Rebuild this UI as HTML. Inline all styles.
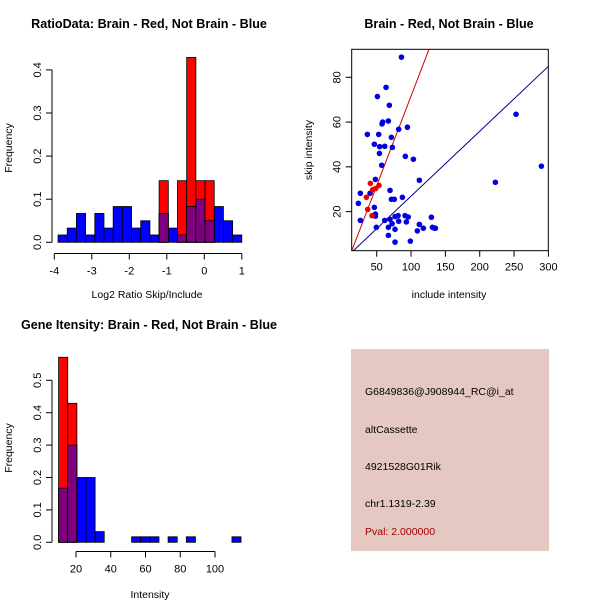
<!DOCTYPE html>
<html><head><meta charset="utf-8"><style>
body{margin:0;background:#fff;}
svg{display:block;font-family:"Liberation Sans",sans-serif;}
</style></head><body>
<svg id="c" width="600" height="600" xmlns="http://www.w3.org/2000/svg">
<rect x="0" y="0" width="600" height="600" fill="#fff"/>
<rect x="351" y="349" width="198" height="202" fill="#e5c8c1"/>
<g font-size="10.5">
<text x="365" y="395">G6849836@J908944_RC@i_at</text>
<text x="365" y="433">altCassette</text>
<text x="365" y="470">4921528G01Rik</text>
<text x="365" y="507">chr1.1319-2.39</text>
<text x="365" y="535" fill="#a00000">Pval: 2.000000</text>
</g>
</svg>
<script>
// ---- Ratio histogram data ----
const ratioBinStart = -3.9;
const ratioBinWidth = 0.245;
const ratioBlue = [0.017,0.033,0.067,0.017,0.067,0.033,0.083,0.083,0.033,0.05,0.017,0.067,0.033,0.017,0.083,0.1,0.05,0.083,0.05,0.017];
const ratioRed  = [0,0,0,0,0,0,0,0,0,0,0,0.143,0,0.143,0.429,0.143,0.143,0,0,0];
const ratioXTicks = [-4,-3,-2,-1,0,1];
const ratioYTicks = [0,0.1,0.2,0.3,0.4];
// ---- Intensity histogram data ----
const intBinStart = 10;
const intBinWidth = 5.25;
const intBlue = [0.167,0.3,0.2,0.2,0.033,0,0,0,0.017,0.017,0.017,0,0.017,0,0.017,0,0,0,0,0.017];
const intRed  = [0.571,0.429];
const intXTicks = [20,40,60,80,100];
const intYTicks = [0,0.1,0.2,0.3,0.4,0.5];
// ---- Scatter data ----
const blueX = [86,63.6,51,68.4,36.4,52.9,57.8,58.7,67,71.4,94.7,46.6,54.3,61.7,72.8,54,91.7,103.4,57.3,112.1,48.1,26.2,40.3,69.4,87.4,71.4,75.7,23.3,46.6,48.1,48.1,26.2,61.7,69.4,49.5,67,72.4,76.7,81.1,91.3,95.9,82,93.2,76.7,67,76.7,99,109.2,112.1,117.9,129.6,131.1,134,135.5,222.8,252.9,289.8,82];
const blueY = [89,75.5,71.4,67.5,54.5,54.5,59.2,60,60.5,53.2,57.7,50.1,49,49.2,48.7,46,44.7,43.4,40.7,34,34.4,28.2,28.2,29.5,26.4,25.5,25.5,23.7,21.9,18.9,18,16.1,16.1,16.6,13,13,14.6,17.8,18.2,18.2,17.6,15.7,15.4,12.1,9.4,6.4,6.8,11.4,14.3,12.6,17.5,13,12.6,12.6,33.1,63.5,40.3,56.8];
const redX = [40.8,53.4,48.5,44.2,35,36.9,43.2];
const redY = [32.6,31.7,30.3,29.8,26.4,21,18.2];
const redLine = [0.8,-8.4];   // slope, intercept
const blueLine = [0.29,-2.1];
const scXTicks = [50,100,150,200,250,300];
const scYTicks = [20,40,60,80];

const svg = document.getElementById('c');
const NS = 'http://www.w3.org/2000/svg';
function mk(tag, attrs, parent){const e=document.createElementNS(NS,tag);for(const k in attrs)e.setAttribute(k,attrs[k]);(parent||svg).appendChild(e);return e;}
function txt(s,x,y,attrs){const e=mk('text',Object.assign({x:x,y:y},attrs||{}));e.textContent=s;return e;}

function histogram(o){
  const g=mk('g',{});
  
  
  const X=v=>o.x0+(v-o.xa)*o.xs, Y=v=>o.y0-v*o.ys;
  for(let i=0;i<o.blue.length;i++){ if(!o.blue[i])continue;
    const l=X(o.start+i*o.w), r=X(o.start+(i+1)*o.w);
    const b=mk('rect',{x:l,y:Y(o.blue[i]),width:r-l,height:o.blue[i]*o.ys,fill:'#0000ff',stroke:'#000','stroke-width':0.8},g);
    
    }
  for(let i=0;i<o.red.length;i++){ if(!o.red[i])continue;
    const l=X(o.start+i*o.w), r=X(o.start+(i+1)*o.w);
    const b=mk('rect',{x:l,y:Y(o.red[i]),width:r-l,height:o.red[i]*o.ys,fill:'#ff0000',stroke:'#000','stroke-width':0.8},g);
    
    
    const m=Math.min(o.red[i],o.blue[i]||0);
    if(m>0){const p=mk('rect',{x:l,y:Y(m),width:r-l,height:m*o.ys,fill:'#7f007f',stroke:'#000','stroke-width':0.8},g);
      
      }}
  const ax=o.xaxisY;
  mk('line',{x1:X(o.xt[0]),y1:ax,x2:X(o.xt[o.xt.length-1]),y2:ax,stroke:'#000'},g);
  o.xt.forEach(t=>{mk('line',{x1:X(t),y1:ax,x2:X(t),y2:ax+6,stroke:'#000'},g);
    txt(String(t),X(t),ax+21,{'font-size':11,'text-anchor':'middle'});});
  const yx=o.yaxisX;
  mk('line',{x1:yx,y1:Y(o.yt[0]),x2:yx,y2:Y(o.yt[o.yt.length-1]),stroke:'#000'},g);
  o.yt.forEach(t=>{mk('line',{x1:yx,y1:Y(t),x2:yx-6,y2:Y(t),stroke:'#000'},g);
    txt(t.toFixed(1),yx-11,Y(t),{'font-size':11,'text-anchor':'middle',transform:`rotate(-90 ${yx-11} ${Y(t)})`});});
  const tt=txt(o.title,o.tx,o.ty,{'font-size':12.6,'font-weight':'bold','text-anchor':'middle'});
  
  
  const xl=txt(o.xlab,o.xlx,o.xly,{'font-size':10.5,'text-anchor':'middle'});
  
  
  const yl=txt('Frequency',12,o.yly,{'font-size':10.5,'text-anchor':'middle',transform:`rotate(-90 12 ${o.yly})`});
  
  
}

histogram({name:'ratio-histogram',blue:ratioBlue,red:ratioRed,start:ratioBinStart,w:ratioBinWidth,
  x0:54.3,xa:-4,xs:37.5,y0:242.3,ys:431,xt:ratioXTicks,yt:ratioYTicks,xaxisY:253.5,yaxisX:52,
  title:'RatioData: Brain - Red, Not Brain - Blue',tx:149,ty:28,xlab:'Log2 Ratio Skip/Include',xlx:147,xly:298,yly:148});
histogram({name:'intensity-histogram',blue:intBlue,red:intRed,start:intBinStart,w:intBinWidth,
  x0:76,xa:20,xs:1.7375,y0:542.3,ys:324,xt:intXTicks,yt:intYTicks,xaxisY:551.5,yaxisX:52,
  title:'Gene Itensity: Brain - Red, Not Brain - Blue',tx:149,ty:329,xlab:'Intensity',xlx:150,xly:598,yly:448});

(function(){
  const g=mk('g',{});
  
  
  const X=v=>376.7+(v-50)*0.6868, Y=v=>77.3+(80-v)*2.2389;
  const L=351.7,R=548.3,T=49.3,B=250.7;
  const xmin=13.7,xmax=300;
  const cp=mk('clipPath',{id:'sc'},g); mk('rect',{x:L,y:T,width:R-L,height:B-T},cp);
  const lines=mk('g',{'clip-path':'url(#sc)'},g);
  [[redLine,'#d00000','red-fit-line'],[blueLine,'#00008b','blue-fit-line']].forEach(([p,c,n])=>{
    const ln=mk('line',{x1:X(xmin),y1:Y(p[0]*xmin+p[1]),x2:X(xmax),y2:Y(p[0]*xmax+p[1]),stroke:c,'stroke-width':1},lines);
    
    });
  blueX.forEach((x,i)=>{const c=mk('circle',{cx:X(x),cy:Y(blueY[i]),r:2.8,fill:'#0000e0'},g);
    
    });
  redX.forEach((x,i)=>{const c=mk('circle',{cx:X(x),cy:Y(redY[i]),r:2.8,fill:'#ee0000'},g);
    
    });
  mk('rect',{x:L,y:T,width:R-L,height:B-T,fill:'none',stroke:'#000'},g);
  scXTicks.forEach(t=>{mk('line',{x1:X(t),y1:B,x2:X(t),y2:B+6,stroke:'#000'},g);
    txt(String(t),X(t),B+20,{'font-size':11,'text-anchor':'middle'});});
  scYTicks.forEach(t=>{mk('line',{x1:L,y1:Y(t),x2:L-6,y2:Y(t),stroke:'#000'},g);
    txt(String(t),L-11,Y(t),{'font-size':11,'text-anchor':'middle',transform:`rotate(-90 ${L-11} ${Y(t)})`});});
  const tt=txt('Brain - Red, Not Brain - Blue',449,28,{'font-size':12.6,'font-weight':'bold','text-anchor':'middle'});
  
  
  const xl=txt('include intensity',449,298,{'font-size':10.5,'text-anchor':'middle'});
  
  
  const yl=txt('skip intensity',312,150,{'font-size':10.5,'text-anchor':'middle',transform:'rotate(-90 312 150)'});
  
  
})();
</script>
</body></html>
